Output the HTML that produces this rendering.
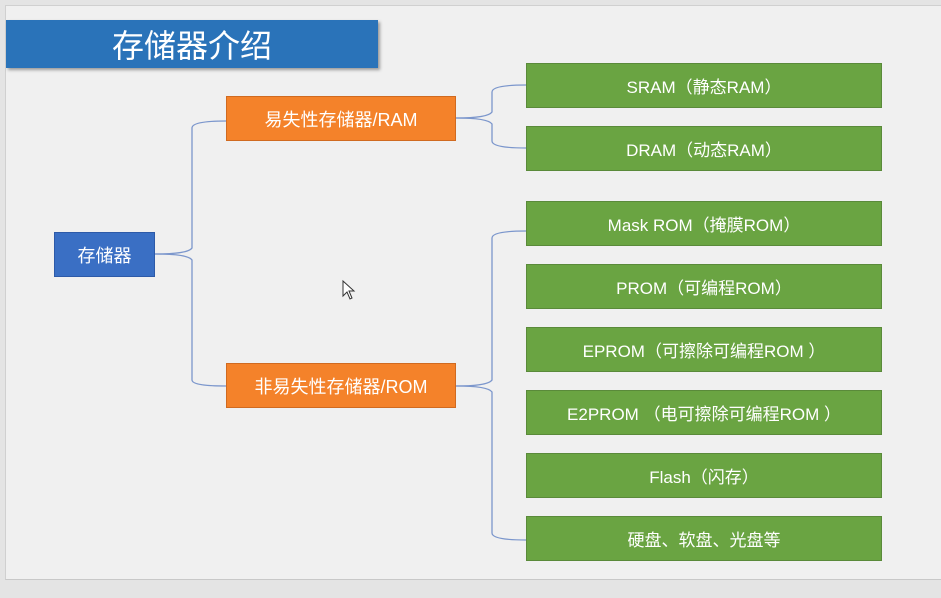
<!DOCTYPE html>
<html><head><meta charset="utf-8"><style>
body{margin:0;width:941px;height:598px;background:#e4e4e4;position:relative;overflow:hidden;font-family:"Liberation Sans","Noto Sans CJK SC",sans-serif}
.slide{position:absolute;left:5px;top:5px;width:936px;height:573px;background:#f0f0f0;border-top:1px solid #d0d0d0;border-left:1px solid #d0d0d0;border-bottom:1px solid #c8c8c8}
.b{position:absolute;color:#fff;display:flex;align-items:center;justify-content:center;box-sizing:border-box;font-size:17px}
.g{left:526px;width:356px;height:45px;background:#6aa442;border:1px solid #5a8a3a}
.o{left:226px;width:230px;height:45px;background:#f4822a;border:1px solid #d06a20;font-size:18px}
</style></head><body>
<div class="slide"></div>
<div class="b" style="left:6px;top:20px;width:372px;height:48px;background:#2a73b9;font-size:32px;box-shadow:2px 2px 3px #999">存储器介绍</div>
<svg style="position:absolute;left:0;top:0" width="941" height="598"><g fill="none" stroke="#7b96cc" stroke-width="1.3">
<path d="M155 254 Q188 254 192 248 L192 128 Q192 121 226 121"/>
<path d="M155 254 Q188 254 192 260 L192 380 Q192 386 226 386"/>
<path d="M456 118 Q488 118 492 112 L492 92 Q492 85 526 85"/>
<path d="M456 118 Q488 118 492 124 L492 141 Q492 148 526 148"/>
<path d="M456 386 Q488 386 492 380 L492 238 Q492 231 526 231"/>
<path d="M456 386 Q488 386 492 392 L492 533 Q492 540 526 540"/>
</g>
<path d="M343 281 L343 296 L347 292 L350 299 L352 298 L349 291 L354 291 Z" fill="#fff" stroke="#333" stroke-width="1"/></svg>
<div class="b" style="left:54px;top:232px;width:101px;height:45px;background:#3a6fc4;border:1px solid #2d5aa8;font-size:18px">存储器</div>
<div class="b o" style="top:96px">易失性存储器/RAM</div>
<div class="b o" style="top:363px">非易失性存储器/ROM</div>
<div class="b g" style="top:63px">SRAM（静态RAM）</div>
<div class="b g" style="top:126px">DRAM（动态RAM）</div>
<div class="b g" style="top:201px">Mask ROM（掩膜ROM）</div>
<div class="b g" style="top:264px">PROM（可编程ROM）</div>
<div class="b g" style="top:327px">EPROM（可擦除可编程ROM ）</div>
<div class="b g" style="top:390px">E2PROM （电可擦除可编程ROM ）</div>
<div class="b g" style="top:453px">Flash（闪存）</div>
<div class="b g" style="top:516px">硬盘、软盘、光盘等</div>
</body></html>
